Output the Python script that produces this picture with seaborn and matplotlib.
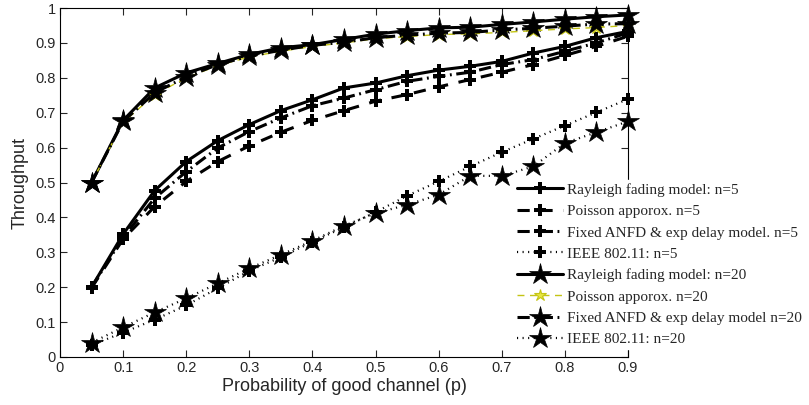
import numpy as np
import pandas as pd
import matplotlib
matplotlib.use("Agg")
import matplotlib.pyplot as plt
import seaborn as sns

# probability of good channel
p = [0.05, 0.10, 0.15, 0.20, 0.25, 0.30, 0.35, 0.40, 0.45,
     0.50, 0.55, 0.60, 0.65, 0.70, 0.75, 0.80, 0.85, 0.90]

# n = 5
rayleigh_5 = [0.200, 0.352, 0.477, 0.560, 0.620, 0.666, 0.706, 0.737, 0.771,
              0.785, 0.806, 0.822, 0.833, 0.847, 0.871, 0.890, 0.915, 0.933]
poisson_5 = [0.198, 0.338, 0.431, 0.503, 0.560, 0.605, 0.644, 0.678, 0.706,
             0.733, 0.752, 0.774, 0.795, 0.816, 0.838, 0.864, 0.890, 0.919]
fixed_5 = [0.200, 0.343, 0.455, 0.531, 0.599, 0.646, 0.685, 0.720, 0.742,
           0.766, 0.790, 0.804, 0.816, 0.838, 0.852, 0.876, 0.900, 0.929]
ieee_5 = [0.034, 0.070, 0.107, 0.148, 0.197, 0.247, 0.286, 0.330, 0.372,
          0.415, 0.462, 0.503, 0.546, 0.587, 0.625, 0.663, 0.701, 0.739]

# n = 20
rayleigh_20 = [0.500, 0.678, 0.771, 0.814, 0.841, 0.867, 0.886, 0.895, 0.910,
               0.925, 0.935, 0.943, 0.945, 0.953, 0.960, 0.968, 0.975, 0.980]
poisson_20 = [0.500, 0.672, 0.752, 0.800, 0.835, 0.860, 0.876, 0.890, 0.900,
              0.912, 0.918, 0.924, 0.926, 0.930, 0.935, 0.940, 0.944, 0.950]
fixed_20 = [0.500, 0.675, 0.757, 0.803, 0.838, 0.862, 0.879, 0.893, 0.902,
            0.915, 0.922, 0.928, 0.930, 0.937, 0.942, 0.948, 0.954, 0.955]
ieee_20 = [0.041, 0.085, 0.128, 0.168, 0.211, 0.254, 0.293, 0.333, 0.376,
           0.412, 0.436, 0.465, 0.519, 0.519, 0.546, 0.613, 0.644, 0.675]

labels = ["Rayleigh fading model: n=5", "Poisson apporox. n=5",
          "Fixed ANFD & exp delay model. n=5", "IEEE 802.11: n=5",
          "Rayleigh fading model: n=20", "Poisson apporox. n=20",
          "Fixed ANFD & exp delay model n=20", "IEEE 802.11: n=20"]

x_ticks = [0, 0.1, 0.2, 0.3, 0.4, 0.5, 0.6, 0.7, 0.8, 0.9]
y_ticks = [0, 0.1, 0.2, 0.3, 0.4, 0.5, 0.6, 0.7, 0.8, 0.9, 1]

sns.set_style("ticks")
plt.rcParams["font.family"] = ["Liberation Sans", "DejaVu Sans"]

fig = plt.figure(figsize=(8.09, 4.05), dpi=100)
ax = fig.add_axes([60 / 809, 1 - 357 / 405, 568 / 809, 349 / 405])

yellow = "#c4c414"
plus = dict(marker="P", markersize=8, markerfacecolor="k",
            markeredgecolor="k", markeredgewidth=0)
star = dict(marker="*", markersize=16, markerfacecolor="k",
            markeredgecolor="k", markeredgewidth=0.5)

series = [
    (rayleigh_5, dict(color="k", linestyle="-", linewidth=2.2, **plus)),
    (poisson_5, dict(color="k", linestyle=(0, (4, 3.5)), linewidth=2.2, **plus)),
    (fixed_5, dict(color="k", linestyle=(0, (4, 1.5, 0.6, 1.5)), linewidth=2.2, **plus)),
    (ieee_5, dict(color="k", linestyle=(0, (0.5, 2)), linewidth=1.6, **plus)),
    (rayleigh_20, dict(color="k", linestyle="-", linewidth=2.2, **star)),
    (poisson_20, dict(color=yellow, linestyle=(0, (5, 4)), linewidth=1.0,
                      marker="*", markersize=9, markerfacecolor="#e6e640",
                      markeredgecolor=yellow, markeredgewidth=0.8)),
    (fixed_20, dict(color="k", linestyle=(0, (4, 1.5, 0.6, 1.5)), linewidth=2.2, **star)),
    (ieee_20, dict(color="k", linestyle=(0, (0.5, 2)), linewidth=1.6, **star)),
]

for (vals, style), lab in zip(series, labels):
    df = pd.DataFrame({"p": p, "thr": vals})
    sns.lineplot(data=df, x="p", y="thr", ax=ax, label=lab, legend=False,
                 errorbar=None, clip_on=False, **style)

ax.set_xlim(0, 0.9)
ax.set_ylim(0, 1)
ax.set_xticks(x_ticks)
ax.set_xticklabels([f"{t:g}" for t in x_ticks])
ax.set_yticks(y_ticks)
ax.set_yticklabels([f"{t:g}" for t in y_ticks])
ax.tick_params(direction="in", top=True, right=True, length=5, width=0.8,
               labelsize=10.5, pad=3)
for s in ax.spines.values():
    s.set_visible(True)
    s.set_color("k")
    s.set_linewidth(0.8)

ax.set_xlabel("Probability of good channel (p)", fontsize=13, labelpad=2)
ax.set_ylabel("Throughput", fontsize=13, labelpad=5)

leg = ax.legend(loc="upper left", bbox_to_anchor=(514 / 809, 1 - 180 / 405),
                bbox_transform=fig.transFigure, frameon=True, fancybox=False,
                facecolor="white", edgecolor="white", framealpha=1,
                prop={"family": ["Liberation Serif"], "size": 11},
                handlelength=3.0, handletextpad=0.3, labelspacing=0.5,
                borderpad=0.2, borderaxespad=0)
leg.set_zorder(10)

fig.savefig("out.png", dpi=100)
